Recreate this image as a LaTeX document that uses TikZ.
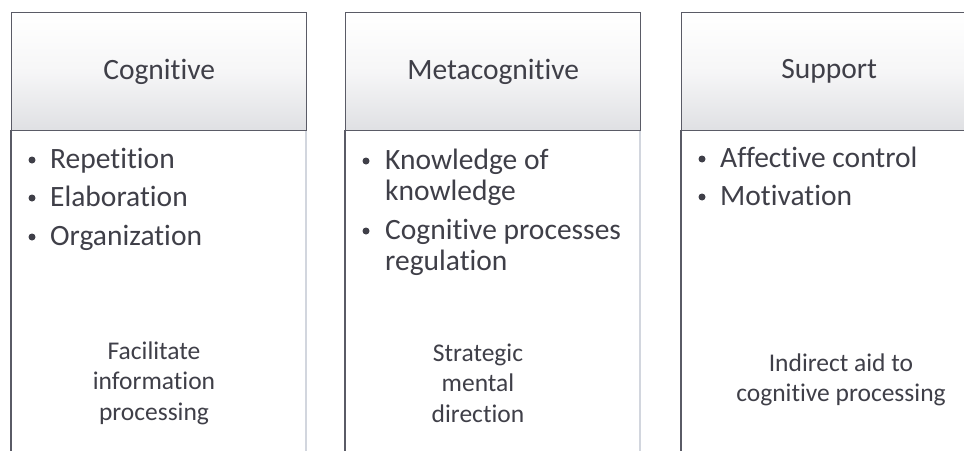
\documentclass[tikz,border=0pt]{standalone}
\usepackage{fontspec}
\setmainfont[Ligatures={NoCommon}]{Carlito}
\definecolor{ink}{HTML}{3F3F48}
\definecolor{frame}{HTML}{5A5B66}
\definecolor{paleframe}{HTML}{D2D6DE}
\definecolor{headtop}{HTML}{FFFFFF}
\definecolor{headmid}{HTML}{F6F6F7}
\definecolor{headbot}{HTML}{DFE0E3}
\tikzset{
  headbox/.style={draw=frame, line width=1.4pt, top color=headtop, bottom color=headbot,
    middle color=headmid, minimum width=295pt, minimum height=118pt, anchor=north west,
    inner sep=0pt, text=ink, font=\fontsize{29.5}{34}\selectfont},
  darkside/.style={draw=frame, line width=1.8pt},
  paleside/.style={draw=paleframe, line width=1.4pt},
  itemline/.style={anchor=base west, inner sep=0pt, text=ink, font=\fontsize{29.5}{34}\selectfont},
  dot/.style={circle, fill=ink, inner sep=0pt, minimum size=7pt},
  note/.style={align=center, text=ink, inner sep=0pt, font=\fontsize{25.5}{30.5}\selectfont}
}
\begin{document}
\begin{tikzpicture}[x=1pt, y=-1pt]
\useasboundingbox (0,0) rectangle (964,450);
\fill[white] (0,0) rectangle (964,450);
\clip (0,0) rectangle (964,450);

% column bodies: dark left side, pale right side, open at the foot
\foreach \x in {11,345,681} {
  \draw[darkside] (\x,130) -- (\x,452);
  \draw[paleside] (\x+295,130) -- (\x+295,452);
}

% headers
\node[headbox] (hcog) at (11,12) {Cognitive};
\node[headbox] (hmeta) at (345,12) {Metacognitive};
\node[headbox] (hsup) at (681,12) {Support};

% Cognitive items
\node[dot] (c1d) at (32,160) {};
\node[itemline] (c1) at (50,168) {Repetition};
\node[dot] (c2d) at (32,198) {};
\node[itemline] (c2) at (50,206) {Elaboration};
\node[dot] (c3d) at (32,237) {};
\node[itemline] (c3) at (50,245) {Organization};

% Metacognitive items
\node[dot] (m1d) at (366,161) {};
\node[itemline] (m1) at (385,169) {Knowledge of};
\node[itemline] (m1b) at (385,200) {knowledge};
\node[dot] (m2d) at (366,231) {};
\node[itemline] (m2) at (385,239) {Cognitive processes};
\node[itemline] (m2b) at (385,270) {regulation};

% Support items
\node[dot] (s1d) at (702,159) {};
\node[itemline] (s1) at (720,167) {Affective control};
\node[dot] (s2d) at (702,197) {};
\node[itemline] (s2) at (720,205) {Motivation};

% summaries
\node[note] (ncog) at (154,383) {Facilitate\\information\\processing};
\node[note] (nmeta) at (478,383) {Strategic\\mental\\direction};
\node[note] (nsup) at (841,380) {Indirect aid to\\cognitive processing};
\end{tikzpicture}
\end{document}
